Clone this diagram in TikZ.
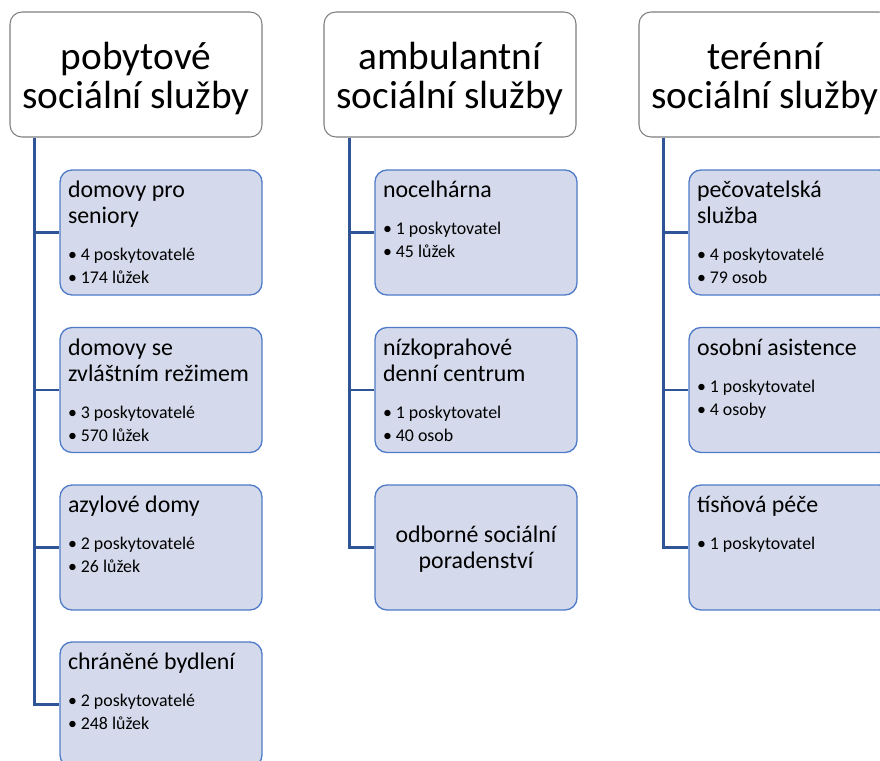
\documentclass[tikz,border=0pt]{standalone}
\usepackage{fontspec}
\setmainfont{Carlito}

\definecolor{modraCara}{HTML}{2F5597}
\definecolor{modraVypln}{HTML}{D4DAEB}
\definecolor{modryOkraj}{HTML}{4F7BC8}
\definecolor{sedyOkraj}{HTML}{7F7F7F}

\newcommand{\bod}[1]{\textbullet\hspace{3pt}#1\par}
\newcommand{\karta}[2]{\parbox[c][80pt][t]{139.5pt}{\raggedright
  \vspace*{1.5pt}\fontsize{17.9}{19.5}\selectfont #1\par\vspace{10.5pt}
  \fontsize{13.4}{17.25}\selectfont #2}}
\newcommand{\nahore}{\rule{0pt}{26pt}}

\begin{document}
\begin{tikzpicture}[x=0.75pt,y=-0.75pt, %pozice v pixelech, y roste dolu
    hlavicka/.style={draw=sedyOkraj, line width=0.8pt, fill=white, rounded corners=9pt,
      minimum width=189pt, minimum height=93.75pt, inner sep=0pt, align=center,
      font=\fontsize{29.5}{29}\selectfont},
    sluzba/.style={draw=modryOkraj, line width=1pt, fill=modraVypln, rounded corners=9pt,
      inner xsep=6pt, inner ysep=6.875pt},
    spoj/.style={draw=modraCara, line width=2pt}]

    \useasboundingbox (0,0) rectangle (880,760);

    % hlavicky
    \node[hlavicka] (pob) at (136,74.5) {\nahore pobytové\\sociální služby};
    \node[hlavicka] (amb) at (450,74.5) {\nahore ambulantní\\sociální služby};
    \node[hlavicka] (ter) at (765,74.5) {\nahore terénní\\sociální služby};

    % pobytove
    \node[sluzba] (pob1) at (161,232.5) {\karta{domovy pro\\seniory}{\bod{4 poskytovatelé}\bod{174 lůžek}}};
    \node[sluzba] (pob2) at (161,390) {\karta{domovy se\\zvláštním režimem}{\bod{3 poskytovatelé}\bod{570 lůžek}}};
    \node[sluzba] (pob3) at (161,547.5) {\karta{azylové domy}{\bod{2 poskytovatelé}\bod{26 lůžek}}};
    \node[sluzba] (pob4) at (161,704.5) {\karta{chráněné bydlení}{\bod{2 poskytovatelé}\bod{248 lůžek}}};

    % ambulantni
    \node[sluzba] (amb1) at (476,232.5) {\karta{nocelhárna}{\bod{1 poskytovatel}\bod{45 lůžek}}};
    \node[sluzba] (amb2) at (476,390) {\karta{nízkoprahové\\denní centrum}{\bod{1 poskytovatel}\bod{40 osob}}};
    \node[sluzba, inner sep=0pt, minimum width=151.5pt, minimum height=93.75pt, align=center,
      font=\fontsize{17.9}{19.5}\selectfont] (amb3) at (476,547.5) {\rule{0pt}{15pt}odborné sociální\\poradenství};

    % terenni
    \node[sluzba] (ter1) at (790,232.5) {\karta{pečovatelská\\služba}{\bod{4 poskytovatelé}\bod{79 osob}}};
    \node[sluzba] (ter2) at (790,390) {\karta{osobní asistence}{\bod{1 poskytovatel}\bod{4 osoby}}};
    \node[sluzba] (ter3) at (790,547.5) {\karta{tísňová péče}{\bod{1 poskytovatel}}};

    % spojnice
    \coordinate (kpob) at ([xshift=18.75pt]pob.south west);
    \coordinate (kamb) at ([xshift=19.5pt]amb.south west);
    \coordinate (kter) at ([xshift=18.75pt]ter.south west);

    \draw[spoj] (kpob) |- (pob1.west);
    \draw[spoj] (kpob) |- (pob2.west);
    \draw[spoj] (kpob) |- (pob3.west);
    \draw[spoj] (kpob) |- (pob4.west);

    \draw[spoj] (kamb) |- (amb1.west);
    \draw[spoj] (kamb) |- (amb2.west);
    \draw[spoj] (kamb) |- (amb3.west);

    \draw[spoj] (kter) |- (ter1.west);
    \draw[spoj] (kter) |- (ter2.west);
    \draw[spoj] (kter) |- (ter3.west);
\end{tikzpicture}
\end{document}
